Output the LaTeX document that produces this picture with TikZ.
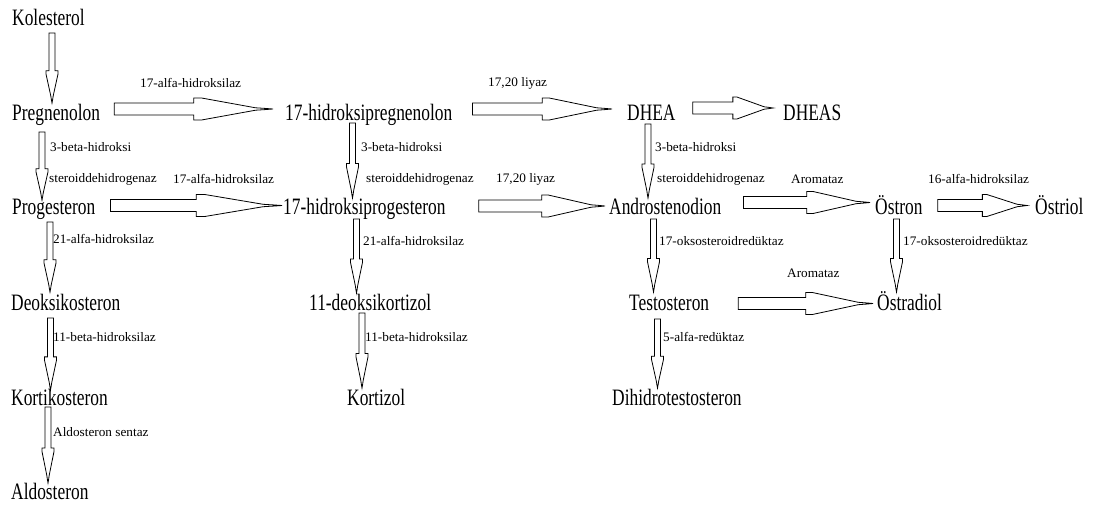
\documentclass[tikz,border=0pt]{standalone}
\usepackage{fontspec}
\setmainfont{Liberation Serif}
\newfontfamily\chemfont[FakeStretch=0.74]{Liberation Serif}
\newfontfamily\enzfont[FakeStretch=1.02]{Liberation Serif}
\usetikzlibrary{calc}

\newcommand{\hshaft}{6pt}
\newcommand{\hhead}{11pt}
\newcommand{\vshaft}{3pt}
\newcommand{\vhead}{6pt}

\tikzset{
    chem/.style={anchor=base west, inner sep=0pt, text height=16pt, text depth=4pt,
        font=\chemfont\fontsize{23.5}{23.5}\selectfont},
    enz/.style={anchor=west, inner sep=0pt, font=\enzfont\fontsize{13}{13}\selectfont},
    blockarrow/.style={draw=black, line width=0.8pt, fill=white, line join=miter}
}

% horizontal block arrow, #1 = shaft part of the length
\newcommand{\harr}[3][0.5]{%
\draw[blockarrow] let \p1=#2, \p2=#3, \n1={\x2-\x1}, \n2={#1*\n1}, \n3={\n1-\n2} in
    (\x1,\y1+\hshaft) -- (\x1+\n2,\y1+\hshaft) -- (\x1+\n2,\y1+\hhead) -- (\x1+\n2+0.1*\n3,\y1+\hhead)
    -- (\x2-0.22*\n3,\y1+1.2pt) -- (\x2-0.1*\n3,\y1+0.6pt) -- (\x2,\y1)
    -- (\x2-0.1*\n3,\y1-0.6pt) -- (\x2-0.22*\n3,\y1-1.2pt) -- (\x1+\n2+0.1*\n3,\y1-\hhead)
    -- (\x1+\n2,\y1-\hhead) -- (\x1+\n2,\y1-\hshaft) -- (\x1,\y1-\hshaft) -- cycle;}

% vertical block arrow (downwards)
\newcommand{\varr}[3][0.54]{%
\draw[blockarrow] let \p1=#2, \p2=#3, \n1={\y1-\y2}, \n2={#1*\n1}, \n3={\n1-\n2} in
    (\x1-\vshaft,\y1) -- (\x1-\vshaft,\y1-\n2) -- (\x1-\vhead,\y1-\n2) -- (\x1-\vhead,\y1-\n2-0.1*\n3)
    -- (\x1-1.2pt,\y2+0.22*\n3) -- (\x1-0.6pt,\y2+0.1*\n3) -- (\x1,\y2)
    -- (\x1+0.6pt,\y2+0.1*\n3) -- (\x1+1.2pt,\y2+0.22*\n3) -- (\x1+\vhead,\y1-\n2-0.1*\n3)
    -- (\x1+\vhead,\y1-\n2) -- (\x1+\vshaft,\y1-\n2) -- (\x1+\vshaft,\y1) -- cycle;}

\begin{document}
\begin{tikzpicture}[x=1pt,y=-1pt]
\useasboundingbox (0,0) rectangle (1093,506);

% steroids
\node[chem] (kol) at (12,25) {Kolesterol};
\node[chem] (preg) at (12,120) {Pregnenolon};
\node[chem] (ohpreg) at (285,120) {17-hidroksipregnenolon};
\node[chem] (dhea) at (627,120) {DHEA};
\node[chem] (dheas) at (783,120) {DHEAS};
\node[chem] (prog) at (12,214) {Progesteron};
\node[chem] (ohprog) at (283,214) {17-hidroksiprogesteron};
\node[chem] (andro) at (609,214) {Androstenodion};
\node[chem] (oestron) at (875,214) {Östron};
\node[chem] (oestriol) at (1035,214) {Östriol};
\node[chem] (deoksi) at (11,310) {Deoksikosteron};
\node[chem] (deoxcort) at (309,310) {11-deoksikortizol};
\node[chem] (testo) at (629,310) {Testosteron};
\node[chem] (oestradiol) at (877,310) {Östradiol};
\node[chem] (kortiko) at (11,405) {Kortikosteron};
\node[chem] (kortizol) at (347,405) {Kortizol};
\node[chem] (dht) at (612,405) {Dihidrotestosteron};
\node[chem] (aldo) at (11,499) {Aldosteron};

% enzymes
\node[enz] (e1) at (140,83) {17-alfa-hidroksilaz};
\node[enz] (e2) at (488,83) {17,20 liyaz};
\node[enz] (e3) at (50,147) {3-beta-hidroksi};
\node[enz] (e4) at (49,179) {steroiddehidrogenaz};
\node[enz] (e5) at (173,179) {17-alfa-hidroksilaz};
\node[enz] (e6) at (361,147) {3-beta-hidroksi};
\node[enz] (e7) at (366,179) {steroiddehidrogenaz};
\node[enz] (e8) at (496,179) {17,20 liyaz};
\node[enz] (e9) at (655,147) {3-beta-hidroksi};
\node[enz] (e10) at (657,179) {steroiddehidrogenaz};
\node[enz] (e11) at (791,179) {Aromataz};
\node[enz] (e12) at (928,179) {16-alfa-hidroksilaz};
\node[enz] (e13) at (53,239) {21-alfa-hidroksilaz};
\node[enz] (e14) at (363,241) {21-alfa-hidroksilaz};
\node[enz] (e15) at (659,241) {17-oksosteroidredüktaz};
\node[enz] (e16) at (903,241) {17-oksosteroidredüktaz};
\node[enz] (e17) at (787,273) {Aromataz};
\node[enz] (e18) at (53,337) {11-beta-hidroksilaz};
\node[enz] (e19) at (365,337) {11-beta-hidroksilaz};
\node[enz] (e20) at (663,337) {5-alfa-redüktaz};
\node[enz] (e21) at (53,432) {Aldosteron sentaz};

% horizontal steps
\harr{($(preg.base east)+(14,-11)$)}{($(ohpreg.base west)+(-12,0)$)}
\harr{($(ohpreg.base east)+(20,-11)$)}{($(dhea.base west)+(-15,0)$)}
\harr{($(dhea.base east)+(17,-12)$)}{($(dheas.base west)+(-10,0)$)}
\harr{($(prog.base east)+(15,-8.5)$)}{($(ohprog.base west)+(-1,0)$)}
\harr{($(ohprog.base east)+(33,-8)$)}{($(andro.base west)+(-4,0)$)}
\harr{($(andro.base east)+(22,-11.5)$)}{($(oestron.base west)+(-5,0)$)}
\harr{($(oestron.base east)+(15,-8.5)$)}{($(oestriol.base west)+(-8,0)$)}
\harr{($(testo.base east)+(29,-6.5)$)}{($(oestradiol.base west)+(-4,0)$)}

% vertical steps
\varr{($(kol.base west)+(40,8)$)}{($(preg.base west)+(40,-17)$)}
\varr{($(preg.base west)+(30,12)$)}{($(prog.base west)+(30,-14)$)}
\varr{($(prog.base west)+(38,8)$)}{($(deoksi.base west)+(39,-18)$)}
\varr{($(deoksi.base west)+(39.5,8)$)}{($(kortiko.base west)+(39.5,-15)$)}
\varr{($(kortiko.base west)+(37,2)$)}{($(aldo.base west)+(37,-16)$)}
\varr{($(ohpreg.base west)+(67.5,3)$)}{($(ohprog.base west)+(69.5,-16)$)}
\varr{($(ohprog.base west)+(73.5,5)$)}{($(deoxcort.base west)+(47.5,-17)$)}
\varr{($(deoxcort.base west)+(53,3)$)}{($(kortizol.base west)+(15,-17)$)}
\varr{($(dhea.base west)+(21,4)$)}{($(andro.base west)+(39,-16)$)}
\varr{($(andro.base west)+(44.5,5)$)}{($(testo.base west)+(24.5,-18)$)}
\varr{($(testo.base west)+(28.5,9)$)}{($(dht.base west)+(45.5,-17)$)}
\varr{($(oestron.base west)+(21.5,5)$)}{($(oestradiol.base west)+(19.5,-18)$)}
\end{tikzpicture}
\end{document}
